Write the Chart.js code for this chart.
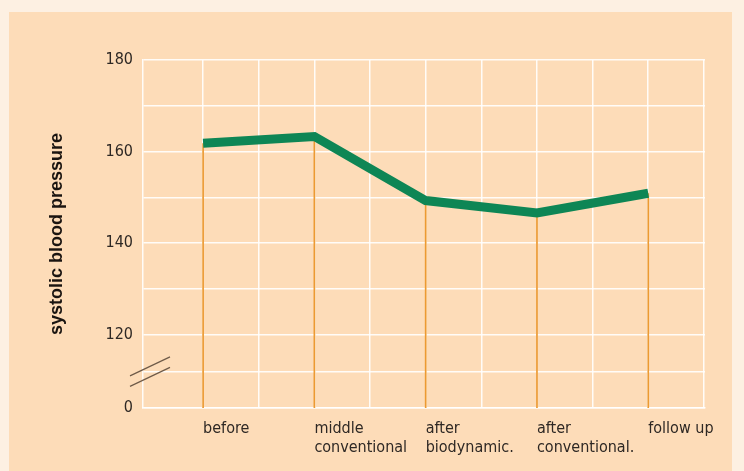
<!DOCTYPE html>
<html>
<head>
<meta charset="utf-8">
<script src="https://cdn.jsdelivr.net/npm/chart.js@4.4.1/dist/chart.umd.min.js"></script>
<style>
  html, body { margin: 0; padding: 0; background: #fdf0e2; }
  #panel { position: absolute; left: 9px; top: 12px; width: 723px; height: 459px; background: #fddcb8; }
  #wrap { position: absolute; left: 0; top: 0; width: 744px; height: 471px; }
</style>
</head>
<body>
<div id="panel"></div>
<div id="wrap"><canvas id="bpChart" width="744" height="471"></canvas></div>
<script>
// Data
const categories = [['before'], ['middle', 'conventional'], ['after', 'biodynamic.'], ['after', 'conventional.'], ['follow up']];
const systolic = [161.8, 163.3, 149.3, 146.6, 150.9];

// y axis (broken below 120, bottom shown as 0)
const yGridValues = [104, 112, 120, 130, 140, 150, 160, 170, 180];
const yTickValues = [104, 120, 140, 160, 180];
const yTickText = ['0', '120', '140', '160', '180'];

const tickFont = { family: "'DejaVu Sans Condensed', 'DejaVu Sans', sans-serif", size: 16, lineHeight: 1.2 };

// Orange drop lines from each point down to the axis
const dropLines = {
    id: 'dropLines',
    beforeDatasetsDraw(chart) {
        const ctx = chart.ctx;
        const meta = chart.getDatasetMeta(0);
        ctx.save();
        ctx.strokeStyle = '#ec9a32';
        ctx.lineWidth = 1.7;
        meta.data.forEach(pt => {
            ctx.beginPath();
            ctx.moveTo(pt.x, pt.y);
            ctx.lineTo(pt.x, chart.chartArea.bottom);
            ctx.stroke();
        });
        ctx.restore();
    }
};

// Axis break mark
const breakMark = {
    id: 'breakMark',
    afterDraw(chart) {
        const ctx = chart.ctx;
        const cx = chart.chartArea.left + 7;
        const cy = chart.scales.y.getPixelForValue(112);
        ctx.save();
        ctx.strokeStyle = '#6e5a48';
        ctx.lineWidth = 1.2;
        [-5.5, 5].forEach(dy => {
            ctx.beginPath();
            ctx.moveTo(cx - 20, cy + dy + 10);
            ctx.lineTo(cx + 20, cy + dy - 9);
            ctx.stroke();
        });
        ctx.restore();
    }
};

const ctx = document.getElementById('bpChart').getContext('2d');
new Chart(ctx, {
    type: 'line',
    data: {
        datasets: [{
            data: systolic.map((v, i) => ({ x: i + 1, y: v })),
            borderColor: '#0e8655',
            borderWidth: 9,
            borderCapStyle: 'butt',
            borderJoinStyle: 'miter',
            pointRadius: 0,
            tension: 0,
            fill: false
        }]
    },
    options: {
        responsive: false,
        animation: false,
        layout: { padding: { left: 42, top: 60, right: 39, bottom: 15 } },
        plugins: { legend: { display: false }, tooltip: { enabled: false } },
        scales: {
            x: {
                type: 'linear',
                min: 0.46,
                max: 5.51,
                afterFit: s => { s.height = 48; },
                afterBuildTicks: s => {
                    s.ticks = [];
                    for (let v = 1; v <= 5.5; v += 0.5) s.ticks.push({ value: v });
                },
                grid: { color: 'rgba(255,255,255,0.9)', lineWidth: 1.5, drawTicks: false },
                border: { color: 'rgba(255,255,255,0.9)', width: 1.5 },
                ticks: {
                    autoSkip: false,
                    maxRotation: 0,
                    align: 'start',
                    padding: 11,
                    color: '#2e2824',
                    font: tickFont,
                    callback: v => Number.isInteger(v) ? categories[v - 1] : ''
                }
            },
            y: {
                min: 104,
                max: 180,
                afterFit: s => { s.width = 101; },
                afterBuildTicks: s => { s.ticks = yGridValues.map(v => ({ value: v })); },
                grid: { color: 'rgba(255,255,255,0.9)', lineWidth: 1.5, drawTicks: false },
                border: { color: 'rgba(255,255,255,0.9)', width: 1.5 },
                ticks: {
                    padding: 10,
                    color: '#2e2824',
                    font: tickFont,
                    callback: v => {
                        const i = yTickValues.indexOf(v);
                        return i >= 0 ? yTickText[i] : '';
                    }
                },
                title: {
                    display: true,
                    text: 'systolic blood pressure',
                    color: '#1a1410',
                    font: { family: "'Liberation Sans', Arial, sans-serif", size: 18, weight: 'bold' }
                }
            }
        }
    },
    plugins: [dropLines, breakMark]
});
</script>
</body>
</html>
